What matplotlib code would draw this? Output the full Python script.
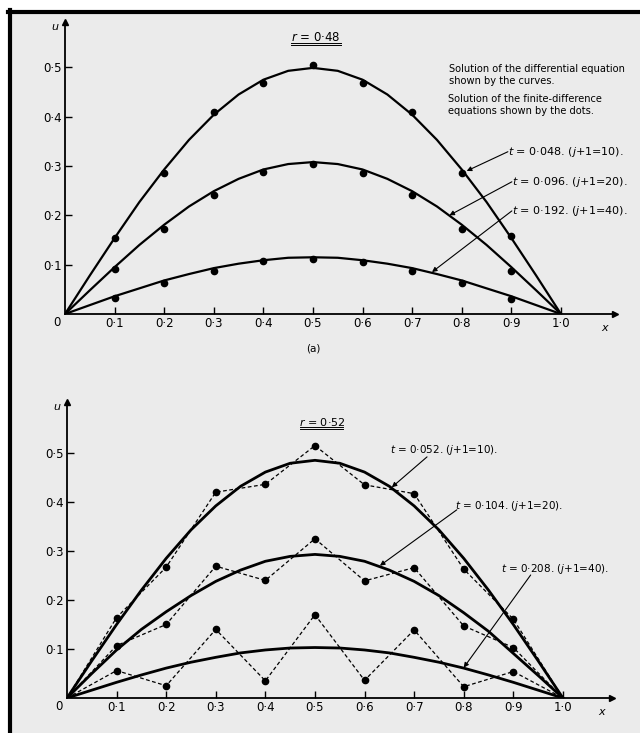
import matplotlib.pyplot as plt
from matplotlib.lines import Line2D
from matplotlib.patches import Rectangle

# grids
x_curve = [0.0, 0.05, 0.1, 0.15, 0.2, 0.25, 0.3, 0.35, 0.4, 0.45, 0.5,
           0.55, 0.6, 0.65, 0.7, 0.75, 0.8, 0.85, 0.9, 0.95, 1.0]
x_grid = [0.0, 0.1, 0.2, 0.3, 0.4, 0.5, 0.6, 0.7, 0.8, 0.9, 1.0]
x_dots = x_grid[1:-1]

xtick_vals = [0.1, 0.2, 0.3, 0.4, 0.5, 0.6, 0.7, 0.8, 0.9, 1.0]
xtick_labels = ['0·1', '0·2', '0·3', '0·4', '0·5', '0·6', '0·7', '0·8', '0·9', '1·0']
ytick_vals = [0.1, 0.2, 0.3, 0.4, 0.5]
ytick_labels = ['0·1', '0·2', '0·3', '0·4', '0·5']

# (a) r = 0.48 : differential equation curves
u_048 = [0, 0.078, 0.154, 0.227, 0.293, 0.353, 0.404, 0.445, 0.475, 0.493, 0.499,
         0.493, 0.475, 0.445, 0.404, 0.353, 0.293, 0.227, 0.154, 0.078, 0]
u_096 = [0, 0.048, 0.095, 0.140, 0.181, 0.218, 0.249, 0.274, 0.293, 0.304, 0.308,
         0.304, 0.293, 0.274, 0.249, 0.218, 0.181, 0.140, 0.095, 0.048, 0]
u_192 = [0, 0.018, 0.036, 0.052, 0.068, 0.081, 0.093, 0.102, 0.109, 0.114, 0.115,
         0.114, 0.109, 0.102, 0.093, 0.081, 0.068, 0.052, 0.036, 0.018, 0]
# finite-difference dots
fd_048 = [0.155, 0.285, 0.41, 0.469, 0.505, 0.469, 0.41, 0.285, 0.158]
fd_096 = [0.091, 0.173, 0.242, 0.288, 0.304, 0.285, 0.241, 0.172, 0.087]
fd_192 = [0.032, 0.063, 0.088, 0.108, 0.112, 0.106, 0.087, 0.063, 0.030]

# (b) r = 0.52
u_052 = [0, 0.076, 0.150, 0.220, 0.285, 0.343, 0.392, 0.432, 0.461, 0.479, 0.485,
         0.479, 0.461, 0.432, 0.392, 0.343, 0.285, 0.220, 0.150, 0.076, 0]
u_104 = [0, 0.050, 0.098, 0.140, 0.176, 0.209, 0.238, 0.261, 0.279, 0.289, 0.293,
         0.289, 0.279, 0.261, 0.238, 0.209, 0.174, 0.136, 0.091, 0.046, 0]
u_208 = [0, 0.016, 0.032, 0.047, 0.061, 0.073, 0.083, 0.092, 0.098, 0.102, 0.103,
         0.102, 0.098, 0.092, 0.083, 0.073, 0.061, 0.047, 0.032, 0.016, 0]
fd_052 = [0, 0.164, 0.267, 0.42, 0.436, 0.515, 0.435, 0.417, 0.263, 0.161, 0]
fd_104 = [0, 0.107, 0.150, 0.269, 0.240, 0.325, 0.239, 0.266, 0.147, 0.103, 0]
fd_208 = [0, 0.056, 0.025, 0.140, 0.035, 0.170, 0.036, 0.139, 0.023, 0.054, 0]

labels_a = ['$t$ = 0·048. ($j$+1=10).', '$t$ = 0·096. ($j$+1=20).', '$t$ = 0·192. ($j$+1=40).']
labels_b = ['$t$ = 0·052. ($j$+1=10).', '$t$ = 0·104. ($j$+1=20).', '$t$ = 0·208. ($j$+1=40).']

W, H = 640, 733
paper = '#ebebeb'
fig = plt.figure(figsize=(6.4, 7.33), dpi=100)
fig.patch.set_facecolor('white')
fig.patches.append(Rectangle((10 / W, 0), 1, (H - 12) / H, transform=fig.transFigure,
                             facecolor=paper, edgecolor='none', zorder=-10))
fig.lines.append(Line2D([10 / W, 10 / W], [0, (H - 10) / H], transform=fig.transFigure,
                        color='black', lw=3))
fig.lines.append(Line2D([8 / W, 1], [(H - 12) / H, (H - 12) / H], transform=fig.transFigure,
                        color='black', lw=3))


def setup(ax, xmax, umax):
    ax.set_facecolor('none')
    ax.set_xlim(0, xmax)
    ax.set_ylim(0, umax)
    for s in ['top', 'right']:
        ax.spines[s].set_visible(False)
    for s in ['left', 'bottom']:
        ax.spines[s].set_linewidth(1.3)
    ax.set_xticks(xtick_vals)
    ax.set_xticklabels(xtick_labels)
    ax.set_yticks(ytick_vals)
    ax.set_yticklabels(ytick_labels)
    ax.tick_params(direction='in', length=5, width=1, labelsize=8.5, pad=2)
    ax.plot(1, 0, '>', color='k', ms=5, transform=ax.transAxes, clip_on=False)
    ax.plot(0, 1, '^', color='k', ms=5, transform=ax.transAxes, clip_on=False)
    ax.annotate('0', xy=(0, 0), xytext=(-8, -9), textcoords='offset pixels',
                ha='center', va='center', fontsize=8.5)
    ax.annotate('$u$', xy=(0, 1), xycoords='axes fraction', xytext=(-10, -5),
                textcoords='offset pixels', ha='center', va='center', fontsize=8)
    ax.annotate('$x$', xy=(1, 0), xycoords='axes fraction', xytext=(-10, -14),
                textcoords='offset pixels', ha='center', va='center', fontsize=8)


arrow = dict(arrowstyle='-|>', lw=0.8, color='k', mutation_scale=7, shrinkA=0, shrinkB=0)

# ---- top panel (a)
ax1 = fig.add_axes([65 / W, (H - 314) / H, 550 / W, 292 / H])
setup(ax1, 1.109, 0.592)
for u in (u_048, u_096, u_192):
    ax1.plot(x_curve, u, color='k', lw=1.6, solid_joinstyle='round')
for fd in (fd_048, fd_096, fd_192):
    ax1.plot(x_dots, fd, 'o', color='k', ms=4.5)

ax1.text(0.506, 0.56, '$r$ = 0·48', ha='center', va='center', fontsize=8.5)
ax1.plot([0.456, 0.556], [0.549, 0.549], color='k', lw=0.7)
ax1.plot([0.456, 0.556], [0.545, 0.545], color='k', lw=0.7)
ax1.text(0.5, -0.069, '(a)', ha='center', va='center', fontsize=7.5)
ax1.text(0.775, 0.485, 'Solution of the differential equation\nshown by the curves.',
         ha='left', va='center', fontsize=7.1, linespacing=1.25)
ax1.text(0.773, 0.424, 'Solution of the finite-difference\nequations shown by the dots.',
         ha='left', va='center', fontsize=7.1, linespacing=1.25)

tips_a = [(0.81, 0.29), (0.775, 0.2), (0.74, 0.085)]
txt_a = [(0.893, 0.329), (0.901, 0.268), (0.901, 0.209)]
for lab, tip, pos in zip(labels_a, tips_a, txt_a):
    ax1.annotate('', xy=tip, xytext=pos, arrowprops=arrow)
    ax1.text(pos[0], pos[1], lab, ha='left', va='center', fontsize=8)

# ---- bottom panel (b)
ax2 = fig.add_axes([67 / W, (H - 698) / H, 545 / W, 296 / H])
setup(ax2, 1.099, 0.604)
for u in (u_052, u_104, u_208):
    ax2.plot(x_curve, u, color='k', lw=2.0, solid_joinstyle='round')
for fd in (fd_052, fd_104, fd_208):
    ax2.plot(x_grid, fd, color='k', lw=0.9, dashes=(3, 2))
    ax2.plot(x_dots, fd[1:-1], 'o', color='k', ms=4.5)

ax2.text(0.514, 0.564, '$r$ = 0·52', ha='center', va='center', fontsize=8)
ax2.plot([0.47, 0.556], [0.552, 0.552], color='k', lw=0.7)
ax2.plot([0.47, 0.556], [0.548, 0.548], color='k', lw=0.7)

tips_b = [(0.655, 0.43), (0.631, 0.27), (0.80, 0.062)]
tails_b = [(0.726, 0.492), (0.786, 0.384), (0.935, 0.251)]
txt_b = [(0.651, 0.506), (0.782, 0.392), (0.875, 0.263)]
for lab, tip, tail, pos in zip(labels_b, tips_b, tails_b, txt_b):
    ax2.annotate('', xy=tip, xytext=tail, arrowprops=arrow)
    ax2.text(pos[0], pos[1], lab, ha='left', va='center', fontsize=7.5)

fig.savefig('out.png', dpi=100, facecolor=fig.get_facecolor())
